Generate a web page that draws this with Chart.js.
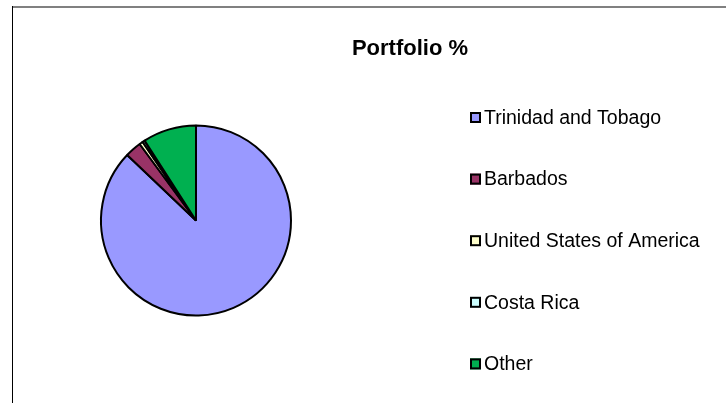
<!DOCTYPE html>
<html>
<head>
<meta charset="utf-8">
<script src="https://cdn.jsdelivr.net/npm/chart.js@4/dist/chart.umd.min.js"></script>
<style>
  html, body { margin: 0; padding: 0; background: #fff; }
  #wrap { width: 726px; height: 403px; position: relative; }
</style>
</head>
<body>
<div id="wrap"><canvas id="portfolio-canvas" width="726" height="403"></canvas></div>
<script>
let titleText = 'Portfolio %';
let countries = ['Trinidad and Tobago', 'Barbados', 'United States of America', 'Costa Rica', 'Other'];
let portfolio = [87.1, 2.8, 0.6, 0.4, 9.1];
let sliceColors = ['#9999FF', '#993366', '#FFFFCC', '#CCFFFF', '#00B050'];

// frame, title and side legend drawn by hand to match the excel look
let excelLook = {
    id: 'excelLook',
    beforeDraw: function (chart) {
        let ctx = chart.ctx;
        ctx.save();
        ctx.fillStyle = '#fff';
        ctx.fillRect(0, 0, chart.width, chart.height);
        ctx.strokeStyle = '#808080';
        ctx.lineWidth = 2;
        ctx.beginPath();
        ctx.moveTo(12, 7);
        ctx.lineTo(chart.width, 7);
        ctx.stroke();
        ctx.strokeStyle = '#000';
        ctx.lineWidth = 1;
        ctx.beginPath();
        ctx.moveTo(12.5, 6);
        ctx.lineTo(12.5, chart.height);
        ctx.stroke();
        ctx.restore();
    },
    afterDraw: function (chart) {
        let ctx = chart.ctx;
        ctx.save();
        ctx.fillStyle = '#000';
        ctx.textBaseline = 'middle';
        ctx.textAlign = 'center';
        ctx.font = 'bold 22px "Liberation Sans", Arial, sans-serif';
        ctx.fillText(titleText, 410, 49);

        let labels = chart.data.labels;
        let colors = chart.data.datasets[0].backgroundColor;
        ctx.textAlign = 'left';
        ctx.font = '19.5px "Liberation Sans", Arial, sans-serif';
        for (let i = 0; i < labels.length; i++) {
            let y = 117.5 + i * 61.6;
            ctx.fillStyle = colors[i];
            ctx.fillRect(470, y - 5.5, 11, 11);
            ctx.strokeStyle = '#000';
            ctx.lineWidth = 2;
            ctx.strokeRect(471, y - 4.5, 9, 9);
            ctx.fillStyle = '#000';
            ctx.fillText(labels[i], 484, y + 1);
        }
        ctx.restore();
    }
};

let config_pie = {
    type: 'pie',
    data: {
        labels: countries,
        datasets: [{
            data: portfolio,
            backgroundColor: sliceColors,
            borderColor: '#000',
            borderWidth: 2
        }]
    },
    options: {
        responsive: false,
        animation: false,
        layout: {
            padding: { left: 100, right: 434, top: 124, bottom: 86 }
        },
        plugins: {
            legend: { display: false },
            title: { display: false },
            tooltip: { enabled: false }
        }
    },
    plugins: [excelLook]
};

let pieChart = new Chart(document.getElementById('portfolio-canvas'), config_pie);
</script>
</body>
</html>
